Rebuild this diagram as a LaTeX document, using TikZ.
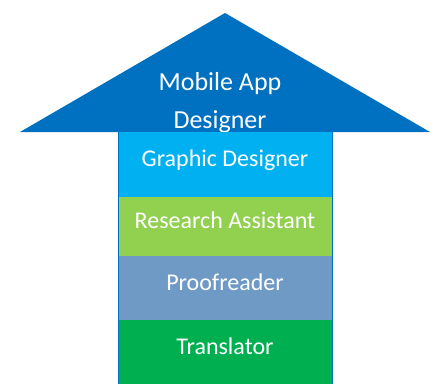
\documentclass[tikz,border=0pt]{standalone}
\usepackage{fontspec}
\setmainfont{Carlito}
\usetikzlibrary{positioning}

\definecolor{arrowblue}{HTML}{0070C0}
\definecolor{skyblue}{HTML}{00B0F0}
\definecolor{lightgreen}{HTML}{92D050}
\definecolor{greyblue}{HTML}{6F9AC6}
\definecolor{darkgreen}{HTML}{00B050}

\tikzset{
  level/.style={minimum width=214pt, outer sep=0pt,
                text height=10pt, text depth=6pt, inner sep=0pt,
                text=white, font=\fontsize{24}{28}\selectfont}
}

\begin{document}
\begin{tikzpicture}[x=1pt,y=1pt]
\useasboundingbox (0,0) rectangle (437,384);
% arrow head on top of the stack
\coordinate (tip) at (225,371);
\coordinate (baseL) at (20,252);
\coordinate (baseR) at (430,252);
\fill[arrowblue] (baseL) -- (tip) -- (baseR) -- cycle;
\node[text=white, align=center, anchor=base,
      font=\fontsize{26}{38}\selectfont] (top) at (220,256)
      {Mobile App\\Designer};
% the levels, from the top down
\node[level, fill=skyblue, minimum height=65pt, anchor=north] (graphic) at (225,252) {Graphic Designer};
\node[level, fill=lightgreen, minimum height=59pt, below=0pt of graphic] (research) {Research Assistant};
\node[level, fill=greyblue, minimum height=64pt, below=0pt of research] (proof) {Proofreader};
\node[level, fill=darkgreen, minimum height=64pt, below=0pt of proof] (trans) {Translator};
% thin sides of the shaft
\draw[arrowblue, line width=0.8pt] (graphic.north west) -- (trans.south west);
\draw[arrowblue, line width=0.8pt] (graphic.north east) -- (trans.south east);
\end{tikzpicture}
\end{document}
